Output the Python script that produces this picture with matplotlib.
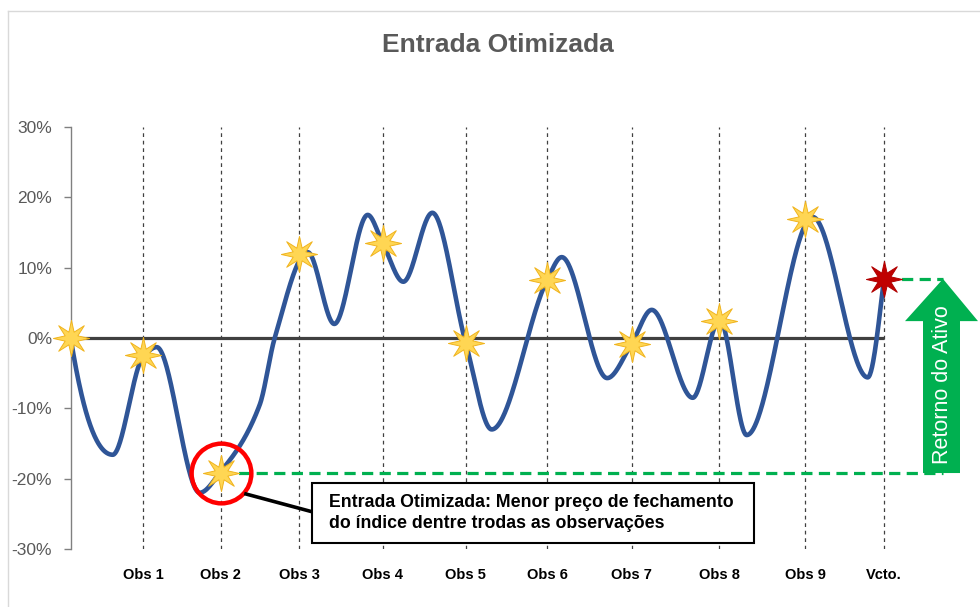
import numpy as np
import matplotlib
matplotlib.use("Agg")
import matplotlib.pyplot as plt
from matplotlib.patches import Rectangle, Polygon
from matplotlib.lines import Line2D
from matplotlib.path import Path

plt.rcParams['font.family'] = ['Liberation Sans', 'DejaVu Sans']

# ---------------- data ----------------
obs_labels = ["Obs 1", "Obs 2", "Obs 3", "Obs 4", "Obs 5", "Obs 6", "Obs 7", "Obs 8", "Obs 9", "Vcto."]
obs_x = [72.6, 150.0, 228.3, 312.0, 395.0, 476.3, 561.0, 648.3, 734.3, 813.3]
obs_values = [-2.4, -19.2, 11.9, 13.5, -0.7, 8.2, -0.8, 2.4, 16.9, 8.4]
start_x = 0.0
start_value = 0.0

# index path (%): extremes and turning points
path_x = [0, 42, 72.6, 86, 129, 150, 189, 204, 237, 263.6, 297, 312, 332.6, 361.6,
          395, 421, 476.3, 491, 536.5, 561, 581, 622, 649, 676, 742, 797, 813.3]
path_y = [0, -16.6, -2.6, -1.3, -22.0, -19.0, -9.5, 0.0, 12.2, 2.0, 17.5, 13.5, 8.0, 17.8,
          -0.7, -13.0, 8.2, 11.5, -5.7, -0.8, 4.0, -8.5, 2.6, -13.8, 17.2, -5.6, 8.4]

entry_index = 1   # Obs 2: lowest observation
final_index = 9   # Vcto.

# ---------------- smooth curve (monotone cubic Hermite) ----------------
def pchip(x, y, xs):
    x = np.asarray(x, float); y = np.asarray(y, float)
    h = np.diff(x); d = np.diff(y) / h
    n = len(x); m = np.zeros(n)
    for k in range(1, n - 1):
        if d[k - 1] * d[k] <= 0:
            m[k] = 0.0
        else:
            w1 = 2 * h[k] + h[k - 1]; w2 = h[k] + 2 * h[k - 1]
            m[k] = (w1 + w2) / (w1 / d[k - 1] + w2 / d[k])
    def endslope(h0, h1, d0, d1):
        s = ((2 * h0 + h1) * d0 - h0 * d1) / (h0 + h1)
        if np.sign(s) != np.sign(d0):
            s = 0.0
        return s
    m[0] = endslope(h[0], h[1], d[0], d[1])
    m[-1] = endslope(h[-1], h[-2], d[-1], d[-2])
    ys = np.empty_like(xs)
    idx = np.clip(np.searchsorted(x, xs) - 1, 0, n - 2)
    for i, (xx, k) in enumerate(zip(xs, idx)):
        t = (xx - x[k]) / h[k]
        h00 = 2 * t**3 - 3 * t**2 + 1; h10 = t**3 - 2 * t**2 + t
        h01 = -2 * t**3 + 3 * t**2; h11 = t**3 - t**2
        ys[i] = h00 * y[k] + h10 * h[k] * m[k] + h01 * y[k + 1] + h11 * h[k] * m[k + 1]
    return ys

xs = np.linspace(path_x[0], path_x[-1], 1500)
ys = pchip(path_x, path_y, xs)

# 8-point star marker
ang = np.pi / 2 + np.arange(16) * np.pi / 8
rad = np.where(np.arange(16) % 2 == 0, 1.0, 0.38)
verts = np.column_stack([rad * np.cos(ang), rad * np.sin(ang)])
verts = np.vstack([verts, verts[:1]])
codes = [Path.MOVETO] + [Path.LINETO] * 15 + [Path.CLOSEPOLY]
star8 = Path(verts, codes)

# ---------------- figure ----------------
W, H = 980, 607
fig = plt.figure(figsize=(W / 100, H / 100), dpi=100)
ax_left, ax_right, ax_top, ax_bot = 70.7, 975, 127, 549
ax = fig.add_axes([ax_left / W, 1 - ax_bot / H, (ax_right - ax_left) / W, (ax_bot - ax_top) / H])
ax.set_xlim(0, ax_right - ax_left)
ax.set_ylim(-30, 30)

# frame lines of the chart area
fig.add_artist(Line2D([8 / W, 1], [1 - 11 / H, 1 - 11 / H], transform=fig.transFigure, color='#D9D9D9', lw=1))
fig.add_artist(Line2D([8 / W, 8 / W], [0, 1 - 11 / H], transform=fig.transFigure, color='#D9D9D9', lw=1))

for s in ['top', 'right', 'bottom']:
    ax.spines[s].set_visible(False)
ax.spines['left'].set_color('#808080')
ax.spines['left'].set_linewidth(1.0)
ax.set_yticks([-30, -20, -10, 0, 10, 20, 30])
ax.set_yticklabels([f"{v}%" for v in [-30, -20, -10, 0, 10, 20, 30]])
ax.tick_params(axis='y', length=5.4, width=1, color='#808080', labelcolor='#595959', labelsize=12.5, pad=8)
ax.set_xticks(obs_x)
ax.set_xticklabels(obs_labels, fontweight='bold', fontsize=10.5)
ax.tick_params(axis='x', length=0, pad=14, labelcolor='#000000')

# vertical dashed observation lines
for xv in obs_x:
    ax.plot([xv, xv], [-30, 30], color='#404040', lw=0.9, ls=(0, (3, 3)), zorder=1)

# zero line
ax.plot([start_x, obs_x[-1]], [0, 0], color='#404040', lw=2.3, zorder=2, solid_capstyle='butt')

# green dashed reference lines
green = '#00B050'
arrow_cx = 943 - ax_left
ax.plot([obs_x[entry_index], arrow_cx], [obs_values[entry_index]] * 2, color=green, lw=2.3,
        dashes=(3.5, 2), zorder=2, clip_on=False)
ax.plot([obs_x[final_index], arrow_cx], [obs_values[final_index]] * 2, color=green, lw=2.3,
        dashes=(3.5, 2), zorder=2, clip_on=False)

# curve
ax.plot(xs, ys, color='#2F5597', lw=3.3, zorder=3, solid_capstyle='round')

# stars
ax.plot([start_x] + obs_x[:-1], [start_value] + obs_values[:-1], ls='none', marker=star8,
        markersize=26, markerfacecolor='#FFD653', markeredgecolor='#F0B41E', markeredgewidth=0.7,
        zorder=5, clip_on=False)
ax.plot([obs_x[-1]], [obs_values[-1]], ls='none', marker=star8, markersize=26,
        markerfacecolor='#C00000', markeredgecolor='#B00000', markeredgewidth=0.7, zorder=5)

# red circle around optimized entry
ax.plot([obs_x[entry_index]], [obs_values[entry_index]], ls='none', marker='o', markersize=43,
        markerfacecolor='none', markeredgecolor='#FF0000', markeredgewidth=3.2, zorder=6)

# green arrow (Retorno do Ativo)
tip = obs_values[final_index]
bottom = obs_values[entry_index]
head_h = 6.0
sx0, sx1 = 923 - ax_left, 960 - ax_left
hx0, hx1 = 905 - ax_left, 978 - ax_left
poly = Polygon([[sx0, bottom], [sx1, bottom], [sx1, tip - head_h], [hx1, tip - head_h],
                [arrow_cx, tip], [hx0, tip - head_h], [sx0, tip - head_h]],
               closed=True, facecolor=green, edgecolor='none', zorder=4, clip_on=False)
ax.add_patch(poly)
ax.text(arrow_cx - 1, -6.7, "Retorno do Ativo", rotation=90, ha='center', va='center',
        color='white', fontsize=15.5, zorder=7)

# annotation box and connector
fig.add_artist(Line2D([246 / W, 313 / W], [1 - 494 / H, 1 - 512 / H], transform=fig.transFigure,
                      color='black', lw=2.6, zorder=7))
fig.add_artist(Rectangle((312 / W, 1 - 543 / H), 442 / W, 60 / H, transform=fig.transFigure,
                         facecolor='white', edgecolor='black', lw=1.5, zorder=8))
fig.text(329 / W, 1 - 513 / H,
         "Entrada Otimizada: Menor preço de fechamento\ndo índice dentre trodas as observações",
         ha='left', va='center', fontsize=12.8, fontweight='bold', color='#000000',
         linespacing=1.25, zorder=9)

# title
fig.text(498 / W, 1 - 45 / H, "Entrada Otimizada", ha='center', va='center', fontsize=19,
         fontweight='bold', color='#595959')

fig.savefig("out.png", dpi=100, facecolor='white')
